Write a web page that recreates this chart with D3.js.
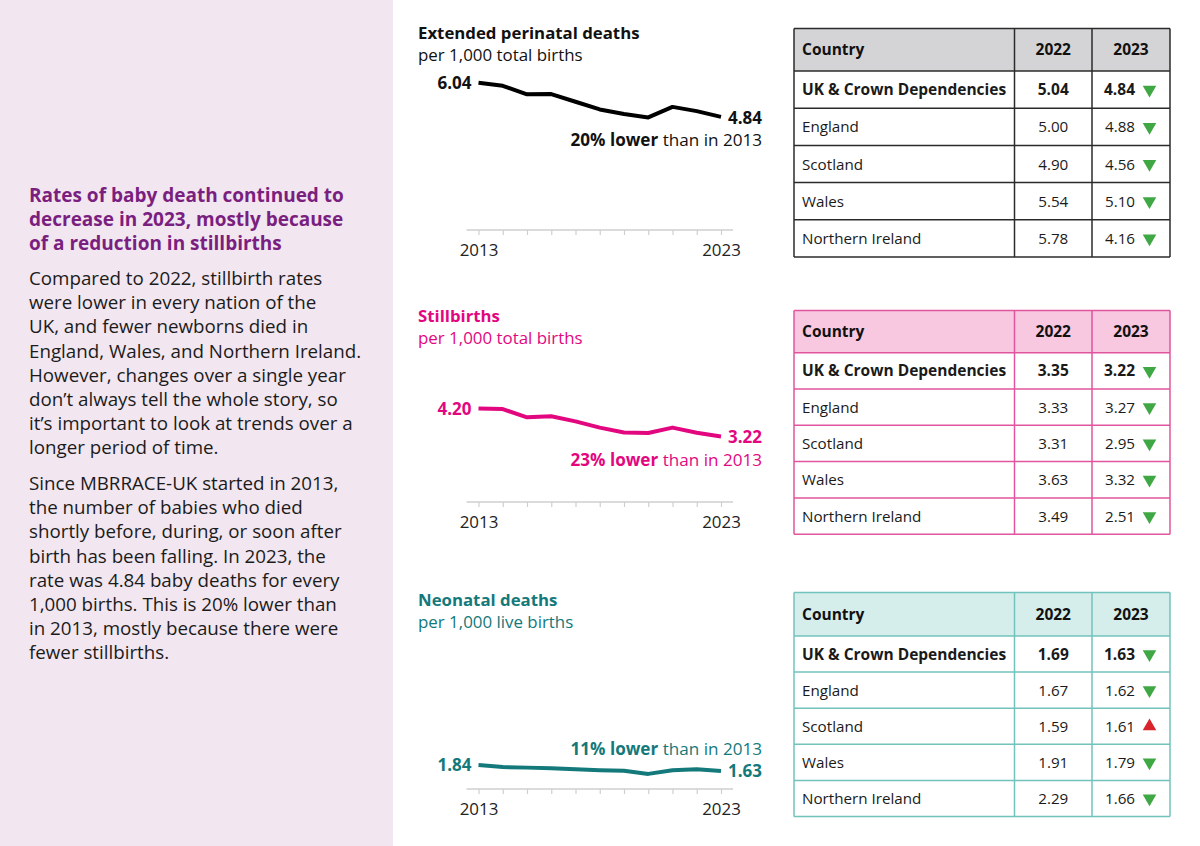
<!DOCTYPE html>
<html><head><meta charset="utf-8">
<script src="https://cdn.jsdelivr.net/npm/d3@7/dist/d3.min.js"></script>
<style>
body{margin:0;background:#fff}
svg{display:block}
text{font-family:'Open Sans','Noto Sans',sans-serif}
</style>
</head><body>
<svg id="c" width="1200" height="846"></svg>
<script>
// ---------- DATA ----------
const years = [2013,2014,2015,2016,2017,2018,2019,2020,2021,2022,2023];
const extendedRates   = [6.04,5.93,5.63,5.64,5.37,5.10,4.94,4.82,5.19,5.04,4.84];
const stillbirthRates = [4.20,4.18,3.89,3.93,3.75,3.53,3.36,3.34,3.53,3.35,3.22];
const neonatalRates   = [1.84,1.77,1.75,1.73,1.69,1.66,1.64,1.53,1.66,1.69,1.63];
const tickLabels = {2013:"2013", 2023:"2023"};

const chartTitles    = ["Extended perinatal deaths","Stillbirths","Neonatal deaths"];
const chartSubtitles = ["per 1,000 total births","per 1,000 total births","per 1,000 live births"];
const changeBold     = ["20% lower","23% lower","11% lower"];
const changeRest     = [" than in 2013"," than in 2013"," than in 2013"];

const tableHeaders = ["Country","2022","2023"];
const countries = ["UK & Crown Dependencies","England","Scotland","Wales","Northern Ireland"];
const extended2022   = [5.04,5.00,4.90,5.54,5.78];
const extended2023   = [4.84,4.88,4.56,5.10,4.16];
const stillbirth2022 = [3.35,3.33,3.31,3.63,3.49];
const stillbirth2023 = [3.22,3.27,2.95,3.32,2.51];
const neonatal2022   = [1.69,1.67,1.59,1.91,2.29];
const neonatal2023   = [1.63,1.62,1.61,1.79,1.66];

const sideTitle = ["Rates of baby death continued to","decrease in 2023, mostly because","of a reduction in stillbirths"];
const sidePara1 = ["Compared to 2022, stillbirth rates","were lower in every nation of the","UK, and fewer newborns died in","England, Wales, and Northern Ireland.","However, changes over a single year","don\u2019t always tell the whole story, so","it\u2019s important to look at trends over a","longer period of time."];
const sidePara2 = ["Since MBRRACE-UK started in 2013,","the number of babies who died","shortly before, during, or soon after","birth has been falling. In 2023, the","rate was 4.84 baby deaths for every","1,000 births. This is 20% lower than","in 2013, mostly because there were","fewer stillbirths."];

// ---------- LAYOUT ----------
const svg = d3.select("#c");
const fmt = d3.format(".2f");
const K = 28.5; // px per unit

svg.append("rect").attr("x",0).attr("y",0).attr("width",393).attr("height",846).attr("fill","#f2e6f0");

// side text
const side = svg.append("g");
side.selectAll("text.t").data(sideTitle).join("text")
  .attr("x",29).attr("y",(d,i)=>201.5+i*24.2)
  .attr("font-size",19).attr("font-weight",700).attr("fill","#7a1f7f").text(d=>d);
side.selectAll("text.p1").data(sidePara1).join("text")
  .attr("x",29).attr("y",(d,i)=>285+i*24.2)
  .attr("font-size",18.75).attr("fill","#1b1b1b").text(d=>d);
side.selectAll("text.p2").data(sidePara2).join("text")
  .attr("x",29).attr("y",(d,i)=>490+i*24.2)
  .attr("font-size",18.75).attr("fill","#1b1b1b").text(d=>d);

// ---------- LINE CHARTS ----------
const charts = [
  {rates:extendedRates,   color:"#000000", text:"#111111", titleY:39,  axisY:230, lo:0.87, firstDy:6, lastDy:7, annoDy:29},
  {rates:stillbirthRates, color:"#e3077f", text:"#e3077f", titleY:322, axisY:502, lo:0.92, firstDy:6, lastDy:7, annoDy:30},
  {rates:neonatalRates,   color:"#13797b", text:"#13797b", titleY:606, axisY:789, lo:1.00, firstDy:6, lastDy:6, annoDy:-16}
];
const x = d3.scaleLinear().domain([years[0], years[years.length-1]]).range([478.5, 721]);

charts.forEach((c,i)=>{
  const g = svg.append("g");
  const hi = c.lo + 7;
  const y = d3.scaleLinear().domain([c.lo, hi]).range([c.axisY, c.axisY - (hi-c.lo)*K]);

  g.append("text").attr("x",418).attr("y",c.titleY).attr("font-size",16.8).attr("font-weight",700)
    .attr("fill",c.text).text(chartTitles[i]);
  g.append("text").attr("x",418).attr("y",c.titleY+22).attr("font-size",16.9)
    .attr("fill",c.text).text(chartSubtitles[i]);

  // axis
  g.append("line").attr("x1",x.range()[0]-12).attr("x2",x.range()[1]+12)
    .attr("y1",c.axisY).attr("y2",c.axisY).attr("stroke","#cfcfcf").attr("stroke-width",1.3);
  const ax = g.append("g").attr("transform",`translate(0,${c.axisY})`)
    .call(d3.axisBottom(x).tickValues(years).tickSize(5).tickSizeOuter(0)
      .tickFormat(d=>tickLabels[d]||""));
  ax.select(".domain").remove();
  ax.selectAll(".tick line").attr("stroke","#cfcfcf").attr("stroke-width",1.2);
  ax.selectAll(".tick text").attr("font-family","'Open Sans',sans-serif").attr("font-size",16.9)
    .attr("fill","#222").attr("dy",0).attr("y",26);

  // line
  const line = d3.line().x((d,j)=>x(years[j])).y(d=>y(d)).curve(d3.curveLinear);
  g.append("path").datum(c.rates).attr("d",line).attr("fill","none")
    .attr("stroke",c.color).attr("stroke-width",4).attr("stroke-linejoin","round").attr("stroke-linecap","butt");

  const first = c.rates[0], last = c.rates[c.rates.length-1];
  g.append("text").attr("x",x(years[0])-7).attr("y",y(first)+c.firstDy).attr("text-anchor","end")
    .attr("font-size",17).attr("font-weight",700).attr("fill",c.text).text(fmt(first));
  g.append("text").attr("x",x(years[years.length-1])+7).attr("y",y(last)+c.lastDy)
    .attr("font-size",17).attr("font-weight",700).attr("fill",c.text).text(fmt(last));
  const an = g.append("text").attr("x",762).attr("y",y(last)+c.annoDy).attr("text-anchor","end")
    .attr("font-size",17.1).attr("fill",c.text);
  an.append("tspan").attr("font-weight",700).text(changeBold[i]);
  an.append("tspan").text(changeRest[i]);
});

// ---------- TABLES ----------
const tables = [
  {v22:extended2022,   v23:extended2023,   top:28.5,  headH:42.5, rowH:37.2, border:"#2b2b2b", head:"#d4d4d6"},
  {v22:stillbirth2022, v23:stillbirth2023, top:310.5, headH:42.2, rowH:36.3, border:"#e0559d", head:"#f7c8df"},
  {v22:neonatal2022,   v23:neonatal2023,   top:592.5, headH:43.5, rowH:36.1, border:"#72c3bc", head:"#d5eeec"}
];
const colX = [794, 1014.5, 1092, 1170];

tables.forEach(t=>{
  const g = svg.append("g");
  const rowsY = d3.scaleBand().domain(d3.range(countries.length)).range([t.top+t.headH, t.top+t.headH+t.rowH*countries.length]);
  const bottom = t.top+t.headH+t.rowH*countries.length;
  g.append("rect").attr("x",colX[0]).attr("y",t.top).attr("width",colX[3]-colX[0]).attr("height",t.headH).attr("fill",t.head);
  const hy = t.top + t.headH/2 + 5.5;
  g.append("text").attr("x",colX[0]+8).attr("y",hy).attr("font-size",15.5).attr("font-weight",700).attr("fill","#111").text(tableHeaders[0]);
  g.append("text").attr("x",(colX[1]+colX[2])/2).attr("y",hy).attr("text-anchor","middle").attr("font-size",15.5).attr("font-weight",700).attr("fill","#111").text(tableHeaders[1]);
  g.append("text").attr("x",(colX[2]+colX[3])/2).attr("y",hy).attr("text-anchor","middle").attr("font-size",15.5).attr("font-weight",700).attr("fill","#111").text(tableHeaders[2]);

  countries.forEach((cn,j)=>{
    const cy = rowsY(j) + rowsY.bandwidth()/2;
    const bold = j===0 ? 700 : 400;
    const fs = j===0 ? 15.5 : 15.2;
    g.append("text").attr("x",colX[0]+8).attr("y",cy+5.5).attr("font-size",fs).attr("font-weight",bold).attr("fill","#1a1a1a").text(cn);
    g.append("text").attr("x",(colX[1]+colX[2])/2).attr("y",cy+5.5).attr("text-anchor","middle").attr("font-size",fs).attr("font-weight",bold).attr("fill","#1a1a1a").text(fmt(t.v22[j]));
    g.append("text").attr("x",1135).attr("y",cy+5.5).attr("text-anchor","end").attr("font-size",fs).attr("font-weight",bold).attr("fill","#1a1a1a").text(fmt(t.v23[j]));
    const down = t.v23[j] < t.v22[j];
    g.append("path").attr("d",d3.symbol(d3.symbolTriangle, 80)())
      .attr("transform",`translate(1149.5,${cy}) rotate(${down?180:0})`)
      .attr("fill", down ? "#3fa845" : "#d8252b");
  });

  const hl = [t.top, t.top+t.headH].concat(countries.map((c,j)=>rowsY(j)+rowsY.bandwidth())) ;
  g.selectAll("line.h").data(hl).join("line").attr("x1",colX[0]).attr("x2",colX[3])
    .attr("y1",d=>d).attr("y2",d=>d).attr("stroke",t.border).attr("stroke-width",1.5);
  g.selectAll("line.v").data(colX).join("line").attr("x1",d=>d).attr("x2",d=>d)
    .attr("y1",t.top).attr("y2",bottom).attr("stroke",t.border).attr("stroke-width",1.5);
});
</script>
</body></html>
